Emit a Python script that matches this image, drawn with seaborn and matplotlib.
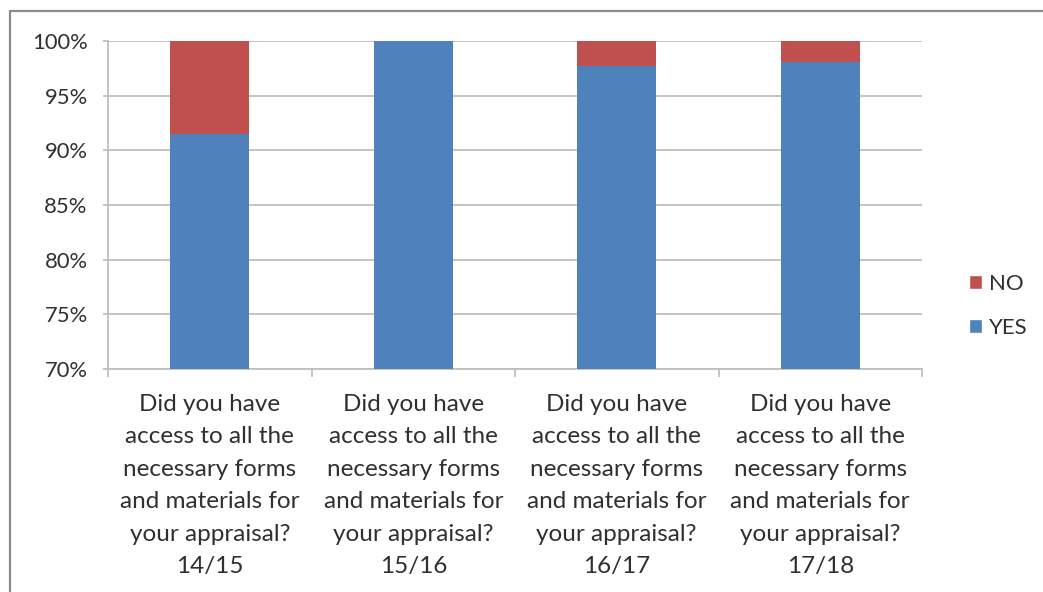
import matplotlib
matplotlib.use("Agg")
import matplotlib.pyplot as plt
from matplotlib.patches import Patch, Rectangle
from matplotlib.ticker import FuncFormatter, MultipleLocator
import pandas as pd
import seaborn as sns

# Survey responses (% of respondents) per year
categories = [
    "Did you have\naccess to all the\nnecessary forms\nand materials for\nyour appraisal?\n14/15",
    "Did you have\naccess to all the\nnecessary forms\nand materials for\nyour appraisal?\n15/16",
    "Did you have\naccess to all the\nnecessary forms\nand materials for\nyour appraisal?\n16/17",
    "Did you have\naccess to all the\nnecessary forms\nand materials for\nyour appraisal?\n17/18",
]
yes_pct = [91.5, 100.0, 97.7, 98.1]
no_pct = [8.5, 0.0, 2.3, 1.9]

BLUE = "#4F81BD"
RED = "#C0504D"
GRID = "#BFBFBF"
TEXT = "#303030"

sns.set_theme(style="white")
plt.rcParams["font.family"] = ["Lato", "DejaVu Sans"]

df = pd.DataFrame({"category": categories, "YES": yes_pct, "NO": no_pct})
df["total"] = df["YES"] + df["NO"]

W, H = 1043, 592
fig = plt.figure(figsize=(W / 100, H / 100), dpi=100)
ax = fig.add_axes([108 / W, 1 - 369 / H, (922 - 108) / W, (369 - 41) / H])

# Stacked bars: full height (YES + NO) in red, YES drawn over it in blue
sns.barplot(data=df, x="category", y="total", color=RED, width=0.39,
            saturation=1, linewidth=0, ax=ax, zorder=3)
sns.barplot(data=df, x="category", y="YES", color=BLUE, width=0.39,
            saturation=1, linewidth=0, ax=ax, zorder=4)

ax.set_ylim(70, 100)
ax.set_xlim(-0.5, len(categories) - 0.5)
ax.yaxis.set_major_locator(MultipleLocator(5))
ax.yaxis.set_major_formatter(FuncFormatter(lambda v, _: f"{v:.0f}%"))
ax.yaxis.grid(True, color=GRID, linewidth=1.3, zorder=0)
ax.set_axisbelow(True)
ax.set_xlabel("")
ax.set_ylabel("")

for side in ("top", "right"):
    ax.spines[side].set_visible(False)
for side in ("left", "bottom"):
    ax.spines[side].set_color(GRID)
    ax.spines[side].set_linewidth(1.3)

ax.tick_params(axis="y", which="major", left=True, length=3.6, width=1.3,
               color=GRID, pad=11, labelsize=15.8, labelcolor=TEXT)
ax.tick_params(axis="x", which="major", bottom=False, length=0, pad=18,
               labelsize=17.5, labelcolor=TEXT)
ax.set_xticks(range(len(categories)))
ax.set_xticklabels(categories, linespacing=1.67, ha="center", va="top")
# Category divider ticks below the axis
ax.set_xticks([i - 0.5 for i in range(len(categories) + 1)], minor=True)
ax.tick_params(axis="x", which="minor", bottom=True, length=6, width=1.3,
               color=GRID)

handles = [Patch(facecolor=RED, label="NO"), Patch(facecolor=BLUE, label="YES")]
fig.legend(handles=handles, loc="center left",
           bbox_to_anchor=(960 / W, 1 - 306 / H), frameon=False,
           fontsize=16, labelcolor=TEXT, handlelength=0.6, handleheight=0.6,
           handletextpad=0.3, labelspacing=1.1, borderaxespad=0)

# Outer chart frame (top and left edges)
fig.patches.append(Rectangle((10 / W, -0.1), 1.2, 1 - 11 / H + 0.1,
                             transform=fig.transFigure, fill=False,
                             edgecolor="#8C8C8C", linewidth=1.6))

fig.savefig("out.png", dpi=100)
